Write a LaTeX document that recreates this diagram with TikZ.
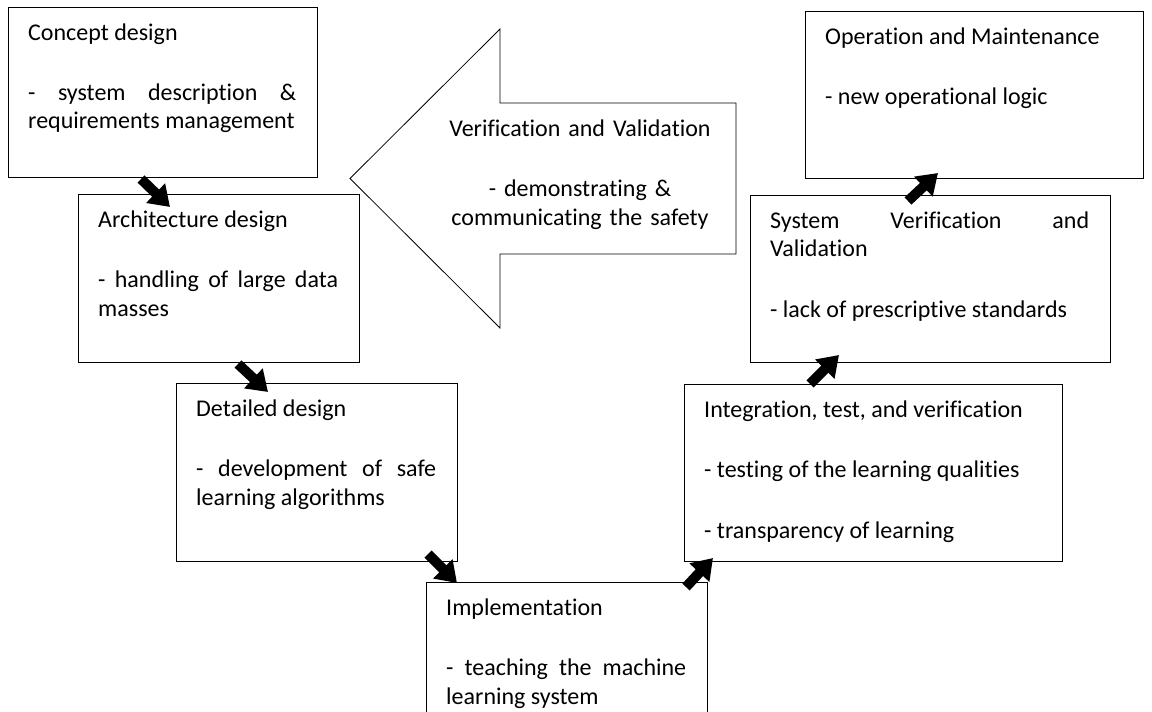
\documentclass[tikz,border=0pt]{standalone}
\usepackage{fontspec}
\setmainfont{Carlito}[Ligatures=NoCommon]
\usepackage{tikz}
\usetikzlibrary{arrows.meta,positioning}

\newcommand\stagefont{\fontsize{24pt}{28.5pt}\selectfont}
\hyphenpenalty=10000
\exhyphenpenalty=10000

\begin{document}
\begin{tikzpicture}[
                    x=1pt,
                    y=-1pt,
                    stage/.style={draw, line width=1pt, anchor=north west, inner sep=0pt},
                    stagetext/.style={anchor=base west, align=justify, inner sep=0pt, font=\stagefont},
                    stagearrow/.style={draw, line width=10pt, -{Triangle[width=26pt,length=20pt]}}
                ]
                \clip (0,0) rectangle (1152,712);

                % the seven life cycle stages
                \node[stage, minimum width=309pt, minimum height=170pt] (concept) at (8,7) {};
                \node[stage, minimum width=281pt, minimum height=168pt] (arch) at (78,194) {};
                \node[stage, minimum width=281pt, minimum height=178pt] (detail) at (176,383) {};
                \node[stage, minimum width=281pt, minimum height=178pt] (impl) at (426,582) {};
                \node[stage, minimum width=378pt, minimum height=177pt] (integ) at (684,384) {};
                \node[stage, minimum width=360pt, minimum height=167pt] (sysvv) at (750,195) {};
                \node[stage, minimum width=338pt, minimum height=167pt] (oper) at (805,11) {};

                \node[stagetext, text width=268pt] (concept-text) at ([shift={(20,33)}]concept.north west)
                    {Concept design\\[32pt]- system description \& requirements management};
                \node[stagetext, text width=240pt] (arch-text) at ([shift={(20,33)}]arch.north west)
                    {Architecture design\\[32pt]- handling of large data masses};
                \node[stagetext, text width=240pt] (detail-text) at ([shift={(20,33)}]detail.north west)
                    {Detailed design\\[32pt]- development of safe learning algorithms};
                \node[stagetext, text width=240pt] (impl-text) at ([shift={(20,33)}]impl.north west)
                    {Implementation\\[32pt]- teaching the machine learning system};
                \node[stagetext, text width=337pt] (integ-text) at ([shift={(20,33)}]integ.north west)
                    {Integration, test, and verification\\[32pt]- testing of the learning qualities\\[32pt]- transparency of learning};
                \node[stagetext, text width=319pt] (sysvv-text) at ([shift={(20,33)}]sysvv.north west)
                    {System Verification and Validation\\[32pt]- lack of prescriptive standards};
                \node[stagetext, text width=297pt] (oper-text) at ([shift={(20,33)}]oper.north west)
                    {Operation and Maintenance\\[32pt]- new operational logic};

                % big arrow pointing back to the left
                \draw[line width=0.8pt] (350,178.5) -- (500,29) -- (500,103) -- (736,103)
                    -- (736,254) -- (500,254) -- (500,328) -- cycle;
                \node[anchor=base, align=center, text width=280pt, inner sep=0pt, font=\stagefont] (vv) at (580,136)
                    {Verification and Validation\\[32pt]- demonstrating \&\\communicating the safety};

                \begin{scope}[
                        every edge/.style={stagearrow}
                    ]
                    \path
                    ([shift={(133,1)}]concept.south west) edge ([shift={(92,13)}]arch.north west)
                    ([shift={(160,1)}]arch.south west) edge ([shift={(92,9)}]detail.north west)
                    ([shift={(252,-8)}]detail.south west) edge ([shift={(31,1)}]impl.north west)
                    ([shift={(-22,5)}]impl.north east) edge ([shift={(29,-4)}]integ.south west)
                    ([shift={(126,0)}]integ.north west) edge ([shift={(89,-8)}]sysvv.south west)
                    ([shift={(158,6)}]sysvv.north west) edge ([shift={(133,-6)}]oper.south west)
                    ;
                \end{scope}
            \end{tikzpicture}
\end{document}
